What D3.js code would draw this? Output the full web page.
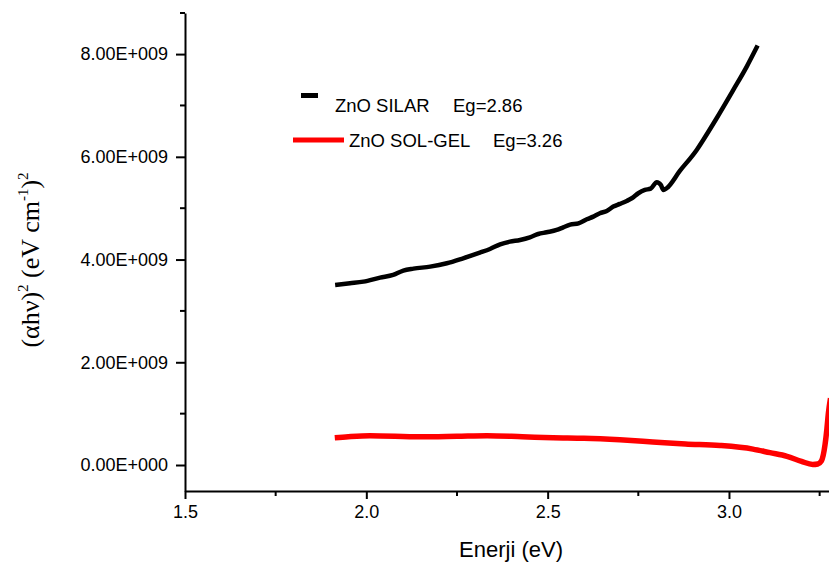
<!DOCTYPE html>
<html>
<head>
<meta charset="utf-8">
<script src="https://cdn.jsdelivr.net/npm/d3@7"></script>
<style>
  html, body { margin: 0; padding: 0; background: #fff; }
  svg { display: block; }
  text { font-family: "Liberation Sans", Arial, sans-serif; fill: #000; }
</style>
</head>
<body>
<svg id="chart" width="829" height="571"></svg>
<script>
// ---- data ----
const silarEnergy = [1.914, 1.955, 1.992, 2.038, 2.074, 2.102, 2.130, 2.176, 2.222, 2.267, 2.313, 2.341, 2.369, 2.396, 2.424, 2.451, 2.474, 2.497, 2.525, 2.543, 2.562, 2.585, 2.608, 2.626, 2.644, 2.663, 2.681, 2.699, 2.718, 2.732, 2.750, 2.768, 2.784, 2.801, 2.812, 2.819, 2.828, 2.865, 2.911, 2.929, 2.966, 3.012, 3.049, 3.079];
const silarValue  = [3.505, 3.538, 3.570, 3.648, 3.700, 3.785, 3.823, 3.862, 3.927, 4.025, 4.135, 4.206, 4.297, 4.349, 4.382, 4.434, 4.498, 4.531, 4.576, 4.628, 4.680, 4.706, 4.784, 4.836, 4.901, 4.946, 5.031, 5.083, 5.141, 5.193, 5.291, 5.355, 5.381, 5.505, 5.453, 5.355, 5.388, 5.731, 6.134, 6.329, 6.751, 7.303, 7.757, 8.166].map(v => v * 1e9);

const solgelEnergy = [1.913, 1.950, 2.010, 2.148, 2.250, 2.333, 2.430, 2.515, 2.600, 2.699, 2.790, 2.880, 2.975, 3.066, 3.113, 3.160, 3.200, 3.231, 3.245, 3.255, 3.265, 3.270, 3.274, 3.280];
const solgelValue  = [0.53, 0.55, 0.57, 0.55, 0.56, 0.57, 0.55, 0.53, 0.52, 0.49, 0.45, 0.41, 0.38, 0.31, 0.24, 0.17, 0.07, 0.01, 0.02, 0.08, 0.40, 0.70, 1.00, 1.30].map(v => v * 1e9);

const xTicks = [1.5, 2.0, 2.5, 3.0];
const xMinorTicks = [1.75, 2.25, 2.75, 3.25];
const yTicks = [0, 2e9, 4e9, 6e9, 8e9];
const yTickLabels = ["0.00E+000", "2.00E+009", "4.00E+009", "6.00E+009", "8.00E+009"];
const yMinorTicks = [1e9, 3e9, 5e9, 7e9];

const legendNames = ["ZnO SILAR", "ZnO SOL-GEL"];
const legendEg = ["Eg=2.86", "Eg=3.26"];
const seriesColors = ["#000000", "#ff0000"];

// ---- layout ----
const svg = d3.select("#chart");
const x = d3.scaleLinear().domain([1.5, 3.5]).range([185, 910.3]);
const y = d3.scaleLinear().domain([-0.506e9, 8.8e9]).range([491, 13]);

// axes
const xAxis = d3.axisBottom(x).tickValues(xTicks).tickFormat(d3.format(".1f")).tickSize(8).tickSizeOuter(0).tickPadding(6);
const gx = svg.append("g").attr("transform", `translate(0,${y.range()[0]})`).call(xAxis);
gx.selectAll("text").style("font-size", "18px");
gx.selectAll("path, line").attr("stroke", "#000").attr("stroke-width", 2);
gx.append("g").selectAll("line").data(xMinorTicks).join("line")
  .attr("x1", d => x(d)).attr("x2", d => x(d)).attr("y1", 0).attr("y2", 5)
  .attr("stroke", "#000").attr("stroke-width", 2);

const yAxis = d3.axisLeft(y).tickValues(yTicks).tickFormat((d, i) => yTickLabels[i]).tickSize(9).tickSizeOuter(0).tickPadding(8);
const gy = svg.append("g").attr("transform", `translate(${x.range()[0]},0)`).call(yAxis);
gy.selectAll("text").style("font-size", "18px");
gy.selectAll("path, line").attr("stroke", "#000").attr("stroke-width", 2);
gy.append("g").selectAll("line").data(yMinorTicks.concat([y.domain()[1]])).join("line")
  .attr("x1", 0).attr("x2", -5).attr("y1", d => y(d)).attr("y2", d => y(d))
  .attr("stroke", "#000").attr("stroke-width", 2);
svg.selectAll(".domain").attr("fill", "none");

// axis titles
svg.append("text")
  .attr("x", 511).attr("y", 557)
  .attr("text-anchor", "middle")
  .style("font-size", "22px")
  .text("Enerji (eV)");

const yt = svg.append("text")
  .attr("transform", "translate(39,260) rotate(-90)")
  .attr("text-anchor", "middle")
  .style("font-family", "'Liberation Serif', 'Times New Roman', serif")
  .style("font-size", "26px");
yt.append("tspan").text("(αhν)");
yt.append("tspan").attr("dy", -11).style("font-size", "15px").text("2");
yt.append("tspan").attr("dy", 11).text(" (eV cm");
yt.append("tspan").attr("dy", -11).style("font-size", "15px").text("-1");
yt.append("tspan").attr("dy", 11).text(")");
yt.append("tspan").attr("dy", -11).style("font-size", "15px").text("2");

// curves
const line = d3.line().x(d => x(d[0])).y(d => y(d[1])).curve(d3.curveMonotoneX);
const silar = silarEnergy.map((e, i) => [e, silarValue[i]]);
const solgel = solgelEnergy.map((e, i) => [e, solgelValue[i]]);

svg.append("path").datum(solgel).attr("d", line)
  .attr("fill", "none").attr("stroke", seriesColors[1]).attr("stroke-width", 5.5)
  .attr("stroke-linejoin", "round");
svg.append("path").datum(silar).attr("d", line)
  .attr("fill", "none").attr("stroke", seriesColors[0]).attr("stroke-width", 4.5)
  .attr("stroke-linejoin", "round");

// legend
const lg = svg.append("g");
lg.append("rect").attr("x", 301).attr("y", 93).attr("width", 17).attr("height", 5).attr("fill", seriesColors[0]);
lg.append("line").attr("x1", 293).attr("x2", 344).attr("y1", 140).attr("y2", 140)
  .attr("stroke", seriesColors[1]).attr("stroke-width", 5);
lg.append("text").attr("x", 335).attr("y", 112).style("font-size", "18.5px").text(legendNames[0]);
lg.append("text").attr("x", 453).attr("y", 112).style("font-size", "18.5px").text(legendEg[0]);
lg.append("text").attr("x", 349).attr("y", 147).style("font-size", "18.5px").text(legendNames[1]);
lg.append("text").attr("x", 493).attr("y", 147).style("font-size", "18.5px").text(legendEg[1]);
</script>
</body>
</html>
